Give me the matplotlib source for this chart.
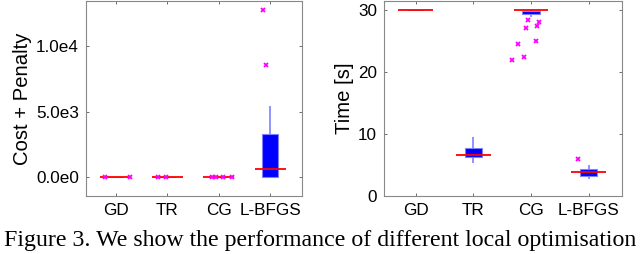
import matplotlib.pyplot as plt
import numpy as np

from matplotlib import rcParams
rcParams['font.family'] = 'sans-serif'
rcParams['font.sans-serif'] = ['Liberation Sans']
rcParams['font.size'] = 12.3

methods = ['GD', 'TR', 'CG', 'L-BFGS']

# cost + penalty: q1, median, q3, whisker low, whisker high
cost_q1 = [0, 0, 0, 0]
cost_med = [0, 0, 0, 640]
cost_q3 = [0, 0, 0, 3270]
cost_wlo = [0, 0, 0, 0]
cost_whi = [0, 0, 0, 5460]
# outliers: (method index, jitter, value)
cost_out_idx = [0, 0, 1, 1, 2, 2, 2, 2, 3, 3]
cost_out_jit = [-0.21, 0.27, -0.18, -0.03, -0.12, -0.05, 0.08, 0.26, -0.14, -0.09]
cost_out_val = [0, 0, 0, 0, 0, 0, 0, 0, 12810, 8550]

# time [s]
time_q1 = [30.0, 6.25, 29.4, 3.3]
time_med = [30.0, 6.6, 30.0, 3.9]
time_q3 = [30.0, 7.7, 29.9, 4.3]
time_wlo = [30.0, 5.3, 28.8, 2.7]
time_whi = [30.0, 9.5, 30.0, 5.0]
time_out_idx = [2, 2, 2, 2, 2, 2, 2, 2, 3]
time_out_jit = [-0.06, 0.14, -0.08, 0.10, -0.22, 0.08, -0.12, -0.33, -0.18]
time_out_val = [28.4, 28.1, 27.1, 27.4, 24.6, 24.95, 22.4, 21.9, 6.0]

fig = plt.figure(figsize=(6.4, 2.54), dpi=100)
ax1 = fig.add_axes([0.134, 0.228, 0.338, 0.768])
ax2 = fig.add_axes([0.600, 0.228, 0.372, 0.768])


def draw_boxes(ax, q1, med, q3, wlo, whi, oidx, ojit, oval):
    pos = np.arange(1, len(methods) + 1)
    for p, a, b in zip(pos, wlo, q1):
        ax.vlines(p, a, b, color='#8080ff', lw=1.2, zorder=2)
    for p, a, b in zip(pos, q3, whi):
        ax.vlines(p, a, b, color='#8080ff', lw=1.2, zorder=2)
    heights = np.array(q3) - np.array(q1)
    ax.bar(pos, heights, bottom=q1, width=0.3, color='#0000ff',
           edgecolor='#8080ff', linewidth=0.8, zorder=3)
    ax.hlines(med, pos - 0.3, pos + 0.3, color='#ff0000', lw=1.3, zorder=4)
    ox = pos[np.array(oidx)] + np.array(ojit)
    ax.plot(ox, oval, 'x', color='#ff00ff', ms=2.5, mew=1.3, ls='none', zorder=5)
    ax.set_xticks(pos)
    ax.set_xticklabels(methods)
    ax.tick_params(direction='in', top=True, right=True, length=2.5,
                   width=0.6, color='#555555', pad=5)
    for s in ax.spines.values():
        s.set_color('#888888')
        s.set_linewidth(0.8)


draw_boxes(ax1, cost_q1, cost_med, cost_q3, cost_wlo, cost_whi,
           cost_out_idx, cost_out_jit, cost_out_val)
ax1.set_xlim(0.42, 4.62)
ax1.set_ylim(-1450, 13480)
ax1.set_yticks([0, 5000, 10000])
ax1.set_yticklabels(['0.0e0', '5.0e3', '1.0e4'])
ax1.set_ylabel('Cost + Penalty', fontsize=14.6, labelpad=3)

draw_boxes(ax2, time_q1, time_med, time_q3, time_wlo, time_whi,
           time_out_idx, time_out_jit, time_out_val)
ax2.set_xlim(0.45, 4.58)
ax2.set_ylim(0, 31.45)
ax2.set_yticks([0, 10, 20, 30])
ax2.set_ylabel('Time [s]', fontsize=14.6, labelpad=3)

fig.text(0.5, 0.055, 'Figure 3. We show the performance of different local optimisation',
         ha='center', va='center', family='Liberation Serif', fontsize=17.2)

plt.savefig('out.png', dpi=100)
